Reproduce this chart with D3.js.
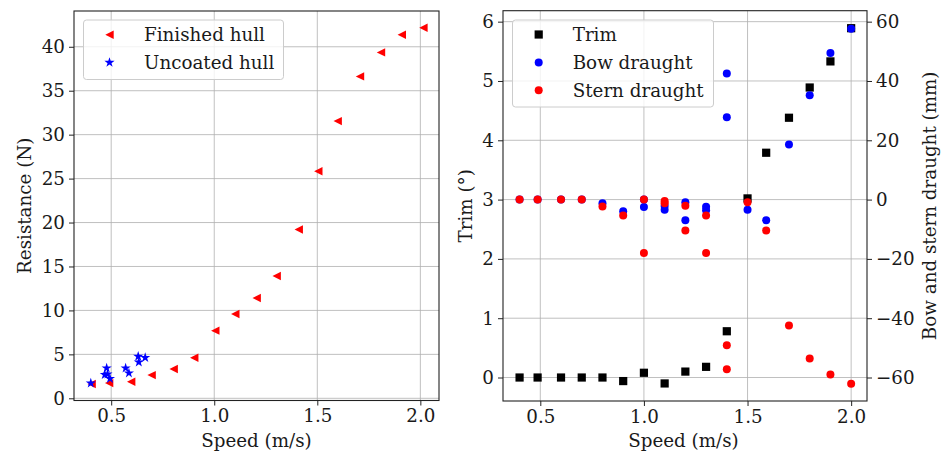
<!DOCTYPE html>
<html><head><meta charset="utf-8">
<script src="https://cdn.jsdelivr.net/npm/d3@7"></script>
<style>
html,body{margin:0;padding:0;background:#fff;}
text{font-family:"DejaVu Serif",serif;fill:#1a1a1a;}
</style></head>
<body><svg id="c" width="942" height="455"></svg>
<script>
// ---- Left panel data ----
const finishedSpeed = [0.405,0.49,0.597,0.696,0.803,0.903,1.005,1.102,1.206,1.303,1.41,1.505,1.599,1.707,1.809,1.91,2.015];
const finishedRes   = [1.62,1.73,1.89,2.64,3.33,4.62,7.70,9.59,11.41,13.92,19.2,25.84,31.54,36.63,39.36,41.37,42.16];
const uncoatedSpeed = [0.401,0.469,0.478,0.482,0.494,0.57,0.586,0.631,0.634,0.665];
const uncoatedRes   = [1.73,2.69,3.44,2.75,2.23,3.44,2.87,4.77,4.12,4.62];
const leftXTicks = [0.5,1.0,1.5,2.0];
const leftYTicks = [0,5,10,15,20,25,30,35,40];

// ---- Right panel data ----
const trimSpeed = [0.4,0.487,0.6,0.7,0.8,0.9,1.0,1.1,1.2,1.3,1.4,1.5,1.59,1.7,1.8,1.9,2.0];
const trimValue = [0,0,0,0,0,-0.06,0.08,-0.10,0.10,0.18,0.78,3.02,3.79,4.38,4.89,5.33,5.89];
const bowSpeed  = [0.4,0.487,0.6,0.7,0.8,0.9,1.0,1.0,1.1,1.1,1.2,1.2,1.3,1.3,1.4,1.4,1.5,1.59,1.7,1.8,1.9,2.0];
const bowValue  = [0,0,0,0,-1.2,-3.9,-2.5,0,-2.2,-3.4,-0.9,-7.0,-2.4,-3.6,42.5,27.8,-3.4,-7.0,18.6,35.2,49.4,57.6];
const sternSpeed = [0.4,0.487,0.6,0.7,0.8,0.9,1.0,1.0,1.1,1.1,1.2,1.2,1.3,1.3,1.4,1.4,1.5,1.59,1.7,1.8,1.9,2.0];
const sternValue = [0,0,0,0,-2.3,-5.4,0,-18.0,-0.5,-1.2,-2.1,-10.4,-5.4,-18.0,-49.1,-57.2,-0.9,-10.4,-42.5,-53.6,-59.0,-62.1];
const rightXTicks = [0.5,1.0,1.5,2.0];
const trimTicks = [0,1,2,3,4,5,6];
const draughtTicks = [-60,-40,-20,0,20,40,60];

const svg = d3.select("#c");
svg.append("rect").attr("width",942).attr("height",455).attr("fill","#fff");
const FS = "18.3px";
const GRID = "#b0b0b0";

function gridAndAxes(g, x, y, xt, yt, box){
  g.append("g").selectAll("line").data(xt).join("line")
    .attr("x1",d=>x(d)).attr("x2",d=>x(d)).attr("y1",box.top).attr("y2",box.bottom)
    .attr("stroke",GRID).attr("stroke-width",0.8);
  g.append("g").selectAll("line").data(yt).join("line")
    .attr("y1",d=>y(d)).attr("y2",d=>y(d)).attr("x1",box.left).attr("x2",box.right)
    .attr("stroke",GRID).attr("stroke-width",0.8);
}
function styleAxis(sel){
  sel.select(".domain").remove();
  sel.selectAll(".tick line").attr("stroke","#222").attr("stroke-width",1);
  sel.selectAll(".tick text").style("font-family","DejaVu Serif").style("font-size",FS).attr("fill","#1a1a1a");
}
function frame(g, box){
  g.append("rect").attr("x",box.left).attr("y",box.top)
    .attr("width",box.right-box.left).attr("height",box.bottom-box.top)
    .attr("fill","none").attr("stroke","#222").attr("stroke-width",1.1);
}
function legend(g, lx, ly, w, h, items){
  g.append("rect").attr("x",lx).attr("y",ly).attr("width",w).attr("height",h).attr("rx",3)
    .attr("fill","#fff").attr("fill-opacity",0.8).attr("stroke","#cccccc").attr("stroke-width",1);
  items.forEach(it=>{
    it.draw(g.append("g").attr("transform",`translate(${it.mx},${it.my})`));
    g.append("text").attr("x",it.tx).attr("y",it.my).attr("dy","0.35em")
      .style("font-size",FS).text(it.label);
  });
}
const triPath = "M-4.2,0L4.2,-4.2L4.2,4.2Z";
const starPath = d3.symbol(d3.symbolStar, 32)();

// ===== LEFT PANEL =====
const LB = {left:74, right:439, top:11, bottom:400.5};
const xL = d3.scaleLinear().domain([0.3195,2.0905]).range([LB.left,LB.right]);
const yL = d3.scaleLinear().domain([-0.25,44.07]).range([LB.bottom,LB.top]);
const gL = svg.append("g");
gridAndAxes(gL, xL, yL, leftXTicks, leftYTicks, LB);
gL.append("g").attr("transform",`translate(0,${LB.bottom})`)
  .call(d3.axisBottom(xL).tickValues(leftXTicks).tickFormat(d3.format(".1f")).tickSize(5).tickPadding(4)).call(styleAxis);
gL.append("g").attr("transform",`translate(${LB.left},0)`)
  .call(d3.axisLeft(yL).tickValues(leftYTicks).tickFormat(d3.format("d")).tickSize(5).tickPadding(4)).call(styleAxis);
frame(gL, LB);
gL.append("g").selectAll("path").data(d3.range(finishedSpeed.length)).join("path")
  .attr("d",triPath).attr("fill","#ff0000")
  .attr("transform",i=>`translate(${xL(finishedSpeed[i])},${yL(finishedRes[i])})`);
gL.append("g").selectAll("path").data(d3.range(uncoatedSpeed.length)).join("path")
  .attr("d",starPath).attr("fill","#0000ff")
  .attr("transform",i=>`translate(${xL(uncoatedSpeed[i])},${yL(uncoatedRes[i])})`);
legend(gL, 83.5, 20, 200, 59.5, [
  {mx:109.5, my:34.7, tx:144, label:"Finished hull", draw:s=>s.append("path").attr("d",triPath).attr("fill","#ff0000")},
  {mx:109.5, my:62.5, tx:144, label:"Uncoated hull", draw:s=>s.append("path").attr("d",starPath).attr("fill","#0000ff")}
]);
gL.append("text").attr("x",256.5).attr("y",440.5).attr("dy","0.35em").attr("text-anchor","middle")
  .style("font-size",FS).text("Speed (m/s)");
gL.append("text").attr("transform",`translate(25,${(LB.top+LB.bottom)/2}) rotate(-90)`)
  .attr("dy","0.35em").attr("text-anchor","middle").style("font-size",FS).text("Resistance (N)");

// ===== RIGHT PANEL =====
const RB = {left:503, right:867, top:10.7, bottom:401};
const xR = d3.scaleLinear().domain([0.32,2.0765]).range([RB.left,RB.right]);
const yR = d3.scaleLinear().domain([-0.396,6.185]).range([RB.bottom,RB.top]);
const yR2 = d3.scaleLinear().domain([(-0.396-3)*20,(6.185-3)*20]).range([RB.bottom,RB.top]);
const gR = svg.append("g");
gridAndAxes(gR, xR, yR, rightXTicks, trimTicks, RB);
gR.append("g").attr("transform",`translate(0,${RB.bottom})`)
  .call(d3.axisBottom(xR).tickValues(rightXTicks).tickFormat(d3.format(".1f")).tickSize(5).tickPadding(4)).call(styleAxis);
gR.append("g").attr("transform",`translate(${RB.left},0)`)
  .call(d3.axisLeft(yR).tickValues(trimTicks).tickFormat(d3.format("d")).tickSize(5).tickPadding(4)).call(styleAxis);
gR.append("g").attr("transform",`translate(${RB.right},0)`)
  .call(d3.axisRight(yR2).tickValues(draughtTicks).tickFormat(d3.format("d")).tickSize(5).tickPadding(4)).call(styleAxis);
frame(gR, RB);
const sq = 8.2, cr = 4;
gR.append("g").selectAll("rect").data(d3.range(trimSpeed.length)).join("rect")
  .attr("x",i=>xR(trimSpeed[i])-sq/2).attr("y",i=>yR(trimValue[i])-sq/2)
  .attr("width",sq).attr("height",sq).attr("fill","#000");
gR.append("g").selectAll("circle").data(d3.range(bowSpeed.length)).join("circle")
  .attr("cx",i=>xR(bowSpeed[i])).attr("cy",i=>yR2(bowValue[i])).attr("r",cr).attr("fill","#0000ff");
gR.append("g").selectAll("circle").data(d3.range(sternSpeed.length)).join("circle")
  .attr("cx",i=>xR(sternSpeed[i])).attr("cy",i=>yR2(sternValue[i])).attr("r",cr).attr("fill","#ff0000");
legend(gR, 512.5, 20, 201, 87, [
  {mx:538.7, my:34.5, tx:572.7, label:"Trim", draw:s=>s.append("rect").attr("x",-sq/2).attr("y",-sq/2).attr("width",sq).attr("height",sq).attr("fill","#000")},
  {mx:538.7, my:62.5, tx:572.7, label:"Bow draught", draw:s=>s.append("circle").attr("r",cr).attr("fill","#0000ff")},
  {mx:538.7, my:90.2, tx:572.7, label:"Stern draught", draw:s=>s.append("circle").attr("r",cr).attr("fill","#ff0000")}
]);
gR.append("text").attr("x",683.5).attr("y",440.5).attr("dy","0.35em").attr("text-anchor","middle")
  .style("font-size",FS).text("Speed (m/s)");
gR.append("text").attr("transform",`translate(466,${(RB.top+RB.bottom)/2}) rotate(-90)`)
  .attr("dy","0.35em").attr("text-anchor","middle").style("font-size",FS).text("Trim (°)");
gR.append("text").attr("transform",`translate(930,${(RB.top+RB.bottom)/2}) rotate(-90)`)
  .attr("dy","0.35em").attr("text-anchor","middle").style("font-size",FS).text("Bow and stern draught (mm)");
</script></body></html>
